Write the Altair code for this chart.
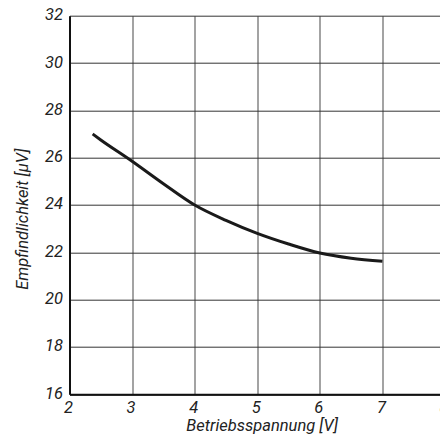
import altair as alt
import pandas as pd

voltage = [2.37, 2.5, 3.0, 3.5, 4.0, 4.5, 5.0, 5.5, 6.0, 6.5, 7.0]
sensitivity = [27.0, 26.75, 25.85, 24.9, 24.0, 23.35, 22.8, 22.35, 21.97, 21.75, 21.62]
x_ticks = [2, 3, 4, 5, 6, 7, 8]
y_ticks = [16, 18, 20, 22, 24, 26, 28, 30, 32]

df = pd.DataFrame({"u": voltage, "s": sensitivity})
FONT = "Roboto, Liberation Sans, sans-serif"

chart = alt.Chart(df).mark_line(color="#1a1a1a", strokeWidth=3, interpolate="monotone").encode(
    x=alt.X("u:Q", scale=alt.Scale(domain=[2, 8], nice=False, zero=False, range=[0, 375.5]),
            axis=alt.Axis(values=x_ticks, title="Betriebsspannung [V]", grid=True, ticks=False,
                          gridColor="#666", gridWidth=1.2,
                          labelPadding=5, labelOffset=-1.5,
                          titleX=192.2, titleY=36, titleAlign="center", titleBaseline="alphabetic")),
    y=alt.Y("s:Q", scale=alt.Scale(domain=[16, 32], nice=False, zero=False),
            axis=alt.Axis(values=y_ticks, title="Empfindlichkeit [µV]", grid=True, ticks=False,
                          gridColor="#333", gridWidth=1,
                          labelPadding=7, labelOffset=-1, labelBaseline="middle",
                          titleX=-42.2, titleY=203, titleAlign="center", titleBaseline="alphabetic",
                          titleAngle=270)),
).properties(
    width=370.5, height=378.6,
    autosize=alt.AutoSizeParams(type="none"),
    padding={"left": 61.5, "top": 7.7, "right": 0, "bottom": 40},
).configure_view(
    stroke=None
).configure_axis(
    domainColor="#111", domainWidth=2,
    gridOpacity=1,
    labelFont=FONT, labelFontSize=16.5, labelFontStyle="italic", labelColor="#222",
    titleFont=FONT, titleFontSize=16.5, titleFontStyle="italic", titleFontWeight="normal", titleColor="#222",
    labelFlush=False, labelOverlap=False,
)

chart.save("out.html", embed_options={"renderer": "svg", "actions": False})
